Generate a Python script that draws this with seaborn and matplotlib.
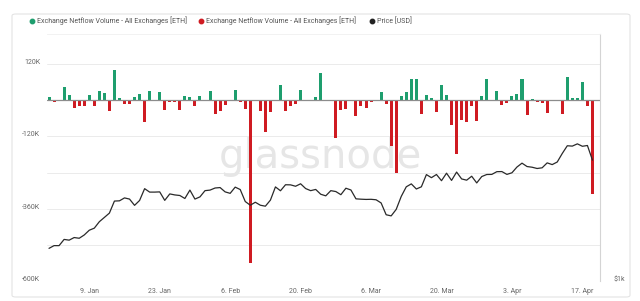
import numpy as np
import pandas as pd
import matplotlib
matplotlib.use("Agg")
import matplotlib.pyplot as plt
import matplotlib.transforms as mtransforms
from matplotlib.lines import Line2D
from matplotlib.patches import FancyBboxPatch
import seaborn as sns

# ---------------- data ----------------
start_date = "2023-01-01"
end_date = "2023-04-19"

# Exchange netflow volume, thousands of ETH (one per day)
netflow_k = [
    11, -7, 0, 44, 17, -26, -20, -19, 19, -18, 30, 24, -37, 99, 8, -12, -12, 10, 20, -73,
    30, 0, 28, -31, -7, -7, -33, 15, 10, -20, 13, 0, 32, -46, -34, -15, 0, 35, -7, -29,
    -539, 0, -37, -107, -39, 2, 52, -34, -18, -14, 33, 0, -3, 10, 92, 0, 0, -125, -31, -28,
    0, -51, -18, -26, -7, 0, 27, -11, -153, -240, 13, 27, 72, 70, -46, 16, 8, -39, 50, 17,
    -81, -178, -64, -73, -20, -70, 13, 72, -3, 30, -17, -9, 13, 21, 72, -50, 4, -6, -9, -42,
    0, 0, -44, 78, 6, 8, 61, -20, -312,
]

# ETH price, USD (one per day)
price_usd = [
    1196, 1214, 1214, 1256, 1251, 1269, 1264, 1287, 1321, 1336, 1384, 1417, 1451, 1550, 1552,
    1577, 1567, 1514, 1555, 1659, 1628, 1628, 1630, 1556, 1612, 1603, 1598, 1572, 1646, 1567, 1586,
    1641, 1646, 1665, 1669, 1630, 1617, 1673, 1651, 1546, 1515, 1540, 1515, 1507, 1558, 1675,
    1640, 1695, 1694, 1681, 1704, 1660, 1641, 1652, 1609, 1595, 1641, 1633, 1605,
    1663, 1647, 1569, 1566, 1564, 1565, 1561, 1534, 1438, 1429, 1481, 1590, 1676, 1703, 1656,
    1676, 1792, 1762, 1793, 1733, 1806, 1736, 1817, 1750, 1738, 1776, 1712, 1773, 1793, 1794, 1821,
    1822, 1794, 1810, 1868, 1908, 1873, 1866, 1853, 1860, 1911, 1893, 1920, 2012, 2099, 2095,
    2121, 2093, 2102, 1940,
]

tick_dates = ["2023-01-09", "2023-01-23", "2023-02-06", "2023-02-20",
              "2023-03-06", "2023-03-20", "2023-04-03", "2023-04-17"]
tick_labels = ["9. Jan", "23. Jan", "6. Feb", "20. Feb", "6. Mar", "20. Mar", "3. Apr", "17. Apr"]

grid_values = [120000, 0, -120000, -240000, -360000, -480000, -600000]
grid_labels = ["120K", "", "-120K", "", "-360K", "", "-600K"]

legend_labels = ["Exchange Netflow Volume - All Exchanges [ETH]",
                 "Exchange Netflow Volume - All Exchanges [ETH]",
                 "Price [USD]"]

GREEN = "#1e9e6e"
RED = "#cf1b22"
LINE = "#2a2a2a"
TEXT = "#666666"

days = pd.date_range(start_date, end_date, freq="D")
df = pd.DataFrame({
    "date": days,
    "idx": np.arange(len(days)),
    "netflow": np.array(netflow_k, dtype=float) * 1000,
    "price": price_usd,
})
df["dir"] = np.where(df["netflow"] >= 0, "in", "out")
tick_pos = [int((pd.Timestamp(t) - days[0]).days) for t in tick_dates]

# ---------------- figure ----------------
sns.set_theme(style="white")
plt.rcParams["font.family"] = ["Roboto", "DejaVu Sans"]

W, H = 640, 301
fig = plt.figure(figsize=(W / 100, H / 100), dpi=100)
fig.patch.set_facecolor("white")

# card border
card = FancyBboxPatch((12 / W, 1 - 297 / H), 618 / W, 283 / H,
                      boxstyle="round,pad=0,rounding_size=0.006",
                      transform=fig.transFigure, facecolor="none",
                      edgecolor="#e4e4e4", linewidth=0.8)
fig.add_artist(card)

ax_left, ax_right, ax_top, ax_bottom = 47, 600, 34, 281
ax = fig.add_axes([ax_left / W, 1 - ax_bottom / H, (ax_right - ax_left) / W, (ax_bottom - ax_top) / H])
ax.set_facecolor("none")

sns.barplot(data=df, x="idx", y="netflow", hue="dir",
            palette={"in": GREEN, "out": RED}, dodge=False, width=0.6,
            saturation=1, linewidth=0, legend=False, ax=ax, zorder=2)

xmin, xmax = -0.4, len(days) + 0.5
ax.set_xlim(xmin, xmax)
ax.set_ylim(-600000, 220000)
ax.set_yticks(grid_values)
ax.set_yticklabels(grid_labels)
ax.set_xticks(tick_pos)
ax.set_xticklabels(tick_labels)
ax.set_xlabel("")
ax.set_ylabel("")
ax.grid(axis="y", color="#ebebeb", linewidth=0.7, zorder=0)
ax.grid(axis="x", visible=False)
ax.axhline(0, color="#8c8c8c", linewidth=0.9, zorder=3)
ax.tick_params(axis="both", length=0, labelsize=5, labelcolor=TEXT)
ax.tick_params(axis="y", pad=5)
ax.tick_params(axis="x", pad=5)
for s in ax.spines.values():
    s.set_visible(False)
off = mtransforms.ScaledTranslation(0, 2.5 / 100, fig.dpi_scale_trans)
for lab in ax.get_yticklabels():
    lab.set_transform(lab.get_transform() + off)

# watermark
ax.text((320 - ax_left) / (ax_right - ax_left), (ax_bottom - 157) / (ax_bottom - ax_top),
        "glassnode", transform=ax.transAxes, ha="center", va="center",
        fontsize=29, color="#e6e6e6", family="DejaVu Sans", zorder=1)

# price line (log scale, right axis)
ax2 = ax.twinx()
sns.lineplot(data=df, x="idx", y="price", ax=ax2, color=LINE, linewidth=0.9, zorder=4)
ax2.set_yscale("log")
ax2.set_ylim(1000, 1000 * 10 ** ((ax_bottom - ax_top) / 420))
ax2.set_xlim(xmin, xmax)
ax2.set_yticks([1000])
ax2.set_yticklabels(["$1k"])
ax2.yaxis.set_minor_locator(matplotlib.ticker.NullLocator())
ax2.set_ylabel("")
ax2.set_xlabel("")
ax2.tick_params(axis="y", length=0, labelsize=5, labelcolor=TEXT, pad=10)
for name, s in ax2.spines.items():
    s.set_visible(False)
ax2.spines["right"].set_visible(True)
ax2.spines["right"].set_color("#d4d4d4")
ax2.spines["right"].set_linewidth(0.8)
ax2.spines["top"].set_visible(True)
ax2.spines["top"].set_color("#f0f0f0")
ax2.spines["top"].set_linewidth(0.6)
for lab in ax2.get_yticklabels():
    lab.set_transform(lab.get_transform() + off)

# legend (manual)
leg_y = 21
for (xd, col, txt) in [(32, GREEN, legend_labels[0]), (201, RED, legend_labels[1]), (372, "#222222", legend_labels[2])]:
    fig.add_artist(Line2D([xd / W], [1 - leg_y / H], marker="o", markersize=3.2,
                          color=col, linestyle="none", transform=fig.transFigure))
    fig.text((xd + 5) / W, 1 - leg_y / H, txt, fontsize=5, color="#555555",
             ha="left", va="center")

fig.savefig("out.png", dpi=100, facecolor="white")
